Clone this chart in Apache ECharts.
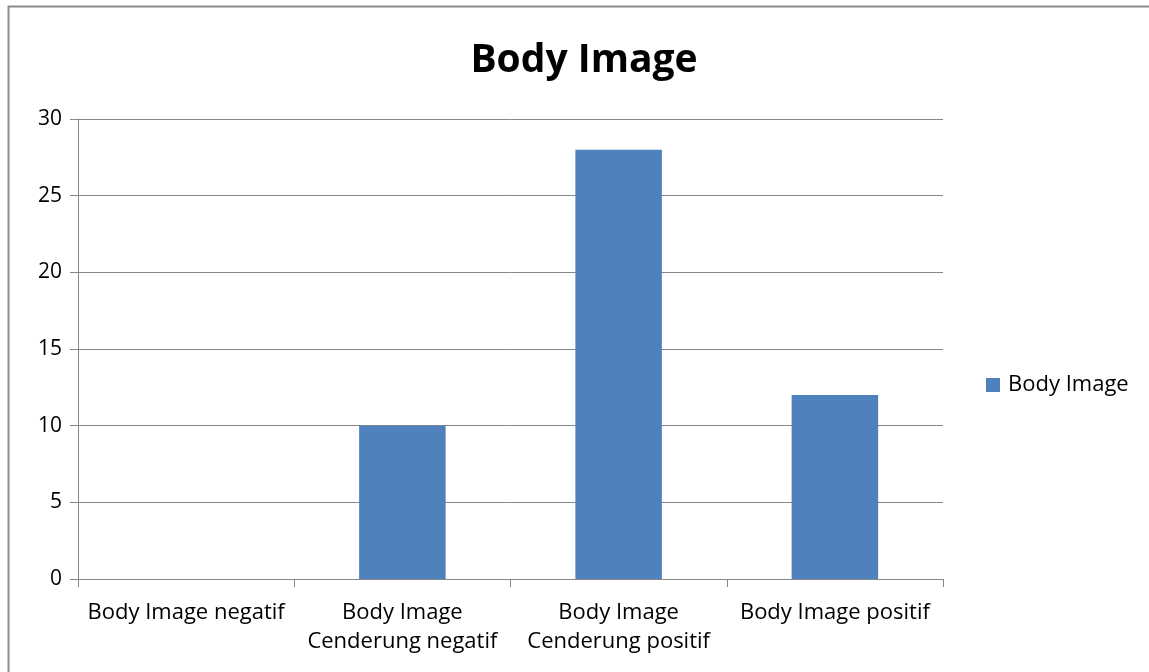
<!DOCTYPE html>
<html>
<head>
<meta charset="utf-8">
<script src="https://cdn.jsdelivr.net/npm/echarts@6/dist/echarts.min.js"></script>
<style>
  html, body { margin: 0; padding: 0; background: #fff; }
  #chart { width: 1149px; height: 672px; }
</style>
</head>
<body>
<div id="chart"></div>
<script>
// Category labels (two-line where the axis needs wrapping)
const categories = [
  'Body Image negatif',
  'Body Image\nCenderung negatif',
  'Body Image\nCenderung positif',
  'Body Image positif'
];
// Counts per category
const bodyImageValues = [0, 10, 28, 12];
const seriesName = 'Body Image';
const titleText = 'Body Image';
const yTicks = { min: 0, max: 30, interval: 5 };

const FONT = '"Open Sans", "Noto Sans", sans-serif';
const chart = echarts.init(document.getElementById('chart'), null, { renderer: 'canvas' });

chart.setOption({
  animation: false,
  backgroundColor: '#ffffff',
  graphic: [{
    type: 'rect',
    shape: { x: 8.5, y: 6.5, width: 1160, height: 700 },
    style: { fill: 'none', stroke: '#8c8c8c', lineWidth: 2 },
    silent: true
  }],
  title: {
    text: titleText,
    left: 584, top: 41,
    padding: 0,
    textAlign: 'center',
    textStyle: { fontFamily: FONT, fontWeight: 'bold', fontSize: 39, color: '#000' }
  },
  legend: {
    data: [seriesName],
    left: 986, top: 374,
    padding: 0,
    icon: 'rect',
    itemWidth: 14, itemHeight: 14, itemGap: 8,
    textStyle: { fontFamily: FONT, fontSize: 22, color: '#000', padding: [0, 0, 0, 3] }
  },
  grid: { left: 78, right: 206, top: 119, bottom: 93, containLabel: false },
  xAxis: {
    type: 'category',
    data: categories,
    axisLine: { lineStyle: { color: '#878787', width: 1 } },
    axisTick: { show: true, interval: 0, length: 8, lineStyle: { color: '#878787' } },
    axisLabel: {
      interval: 0, margin: 19,
      fontFamily: FONT, fontSize: 22, color: '#000', lineHeight: 29,
      verticalAlign: 'top'
    },
    splitLine: { show: false }
  },
  yAxis: {
    type: 'value',
    min: yTicks.min, max: yTicks.max, interval: yTicks.interval,
    axisLine: { show: true, lineStyle: { color: '#878787', width: 1 } },
    axisTick: { show: true, length: 8, lineStyle: { color: '#878787' } },
    axisLabel: { margin: 16, fontFamily: FONT, fontSize: 21, color: '#000' },
    splitLine: { show: true, lineStyle: { color: '#878787', width: 1 } }
  },
  series: [{
    name: seriesName,
    type: 'bar',
    data: bodyImageValues,
    barWidth: '40%',
    itemStyle: { color: '#4f81bd' }
  }]
});
</script>
</body>
</html>
